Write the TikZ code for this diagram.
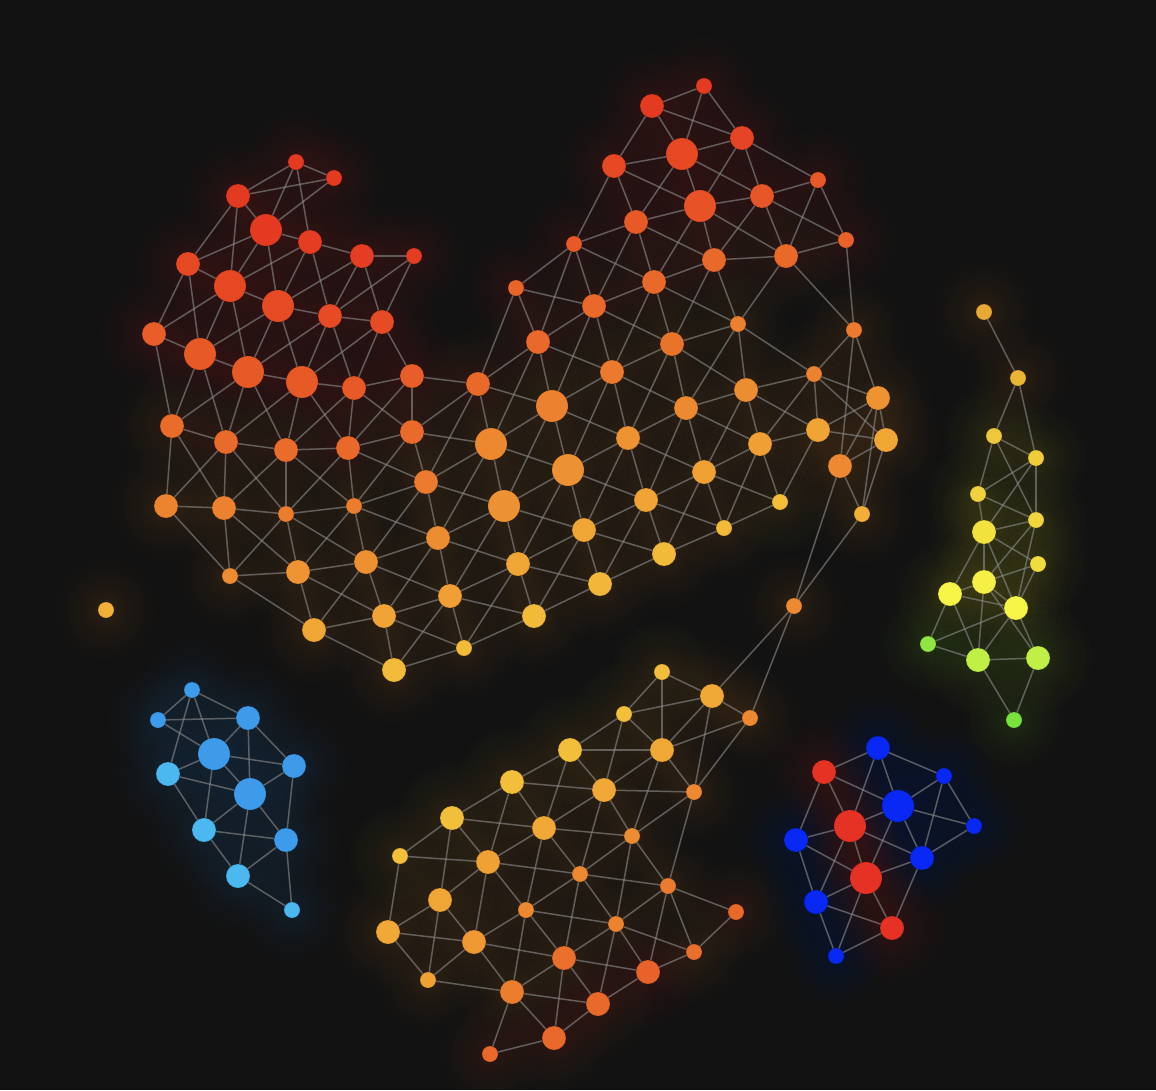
\documentclass[tikz,border=0pt]{standalone}
\usepackage{xcolor}
\definecolor{bg}{HTML}{121212}
\definecolor{cR}{HTML}{E43A22}
\definecolor{cY}{HTML}{F3C53B}
\definecolor{Lb}{HTML}{3D9BE9}
\definecolor{Lc}{HTML}{4BB8F0}
\definecolor{Rb}{HTML}{0A28F5}
\definecolor{Rr}{HTML}{E63224}
\definecolor{edgec}{HTML}{8A8A8A}
\definecolor{y1}{HTML}{E8A834}
\definecolor{y2}{HTML}{EAB434}
\definecolor{y3}{HTML}{ECC83A}
\definecolor{y4}{HTML}{EECC3A}
\definecolor{y5}{HTML}{F0D23C}
\definecolor{y6}{HTML}{F0D63C}
\definecolor{y7}{HTML}{F2E23E}
\definecolor{y8}{HTML}{F0DC3E}
\definecolor{y9}{HTML}{F6F046}
\definecolor{y10}{HTML}{F6F446}
\definecolor{y11}{HTML}{F6F446}
\definecolor{y12}{HTML}{92E442}
\definecolor{y13}{HTML}{C0F046}
\definecolor{y14}{HTML}{C0F046}
\definecolor{y15}{HTML}{78E23C}
\pgfdeclarelayer{bglayer}
\pgfdeclarelayer{glow}
\pgfdeclarelayer{edges}
\pgfsetlayers{bglayer,glow,edges,main}
\tikzset{
  dot/.style={circle, inner sep=0pt, outer sep=0pt, draw=black, draw opacity=0.15, line width=0.8pt},
  edge/.style={draw=edgec, draw opacity=0.62, line width=1.5pt},
  halo/.style={fill=#1, opacity=0.011}
}
\newcommand\gnode[5]{%
  \begin{pgfonlayer}{glow}
    \foreach \gg in {3,6,9,12,16,20,25,30,36,42}
      {\fill[halo=#5] (#2,#3) circle[radius=#4pt+\gg pt];}
  \end{pgfonlayer}
  \node[dot, fill=#5, minimum size=2*#4pt] (#1) at (#2,#3) {};
}
\begin{document}
\begin{tikzpicture}[x=1pt,y=-1pt]
\begin{pgfonlayer}{bglayer}
\fill[bg] (0,0) rectangle (1156,1090);
\end{pgfonlayer}
\useasboundingbox (0,0) rectangle (1156,1090);
% gradient nodes: name/x/y/r/percent yellow
\foreach \nn/\xx/\yy/\rr/\pp in {
A1/296/162/8/0, A2/334/178/8/0, A3/238/196/12/0, A4/266/230/16/0, A5/310/242/12/2,
A6/362/256/12/2, A7/414/256/8/2, A8/188/264/12/10, A9/230/286/16/10, A10/278/306/16/12,
A11/330/316/12/12, A12/382/322/12/12, A13/154/334/12/25, A14/200/354/16/22, A15/248/372/16/22,
A16/302/382/16/22, A17/354/388/12/22, A18/412/376/12/26,
M1/478/384/12/34, M2/491/444/16/56,
B1/172/426/12/36, B2/226/442/12/35, B3/286/450/12/36, B4/348/448/12/34, B5/412/432/12/35,
B6/426/482/12/47, B7/166/506/12/53, B8/224/508/12/52, B9/286/514/8/48, B10/354/506/8/48,
B11/438/538/12/60, B13/230/576/8/60, B14/298/572/12/65, B15/366/562/12/62, B16/450/596/12/73,
B17/314/630/12/78, B18/384/616/12/76, B19/464/648/8/92, B20/394/670/12/93,
T5/704/86/8/0, T6/652/106/12/0, T7/742/138/12/8, T8/682/154/16/10, T9/614/166/12/10,
T10/818/180/8/22, T11/700/206/16/18, T12/762/196/12/20, T13/636/222/12/22, T14/574/244/8/22,
T15/846/240/8/29, T4/714/260/12/34, T16/786/256/12/34, T1/516/288/8/30, T3/654/282/12/34,
T2/594/306/12/34,
C27/738/324/8/50, C28/854/330/8/46, C1/538/342/12/34, C2/672/344/12/41, C3/612/372/12/46,
C4/552/406/16/52, C5/686/408/12/57, C6/746/390/12/60, C7/814/374/8/51, C8/878/398/12/64,
C9/628/438/12/64, C10/760/444/12/73, C11/818/430/12/76, C12/886/440/12/77, C13/568/470/16/63,
C14/704/472/12/74, C15/840/466/12/57, C16/504/506/16/63, C17/646/500/12/76, C18/780/502/8/95,
C19/862/514/8/84, C20/584/530/12/78, C21/724/528/8/92, C22/518/564/12/78, C23/664/554/12/92,
C24/600/584/12/90, C25/534/616/12/92, C26/794/606/8/57,
Z/106/610/8/85,
D1/662/672/8/96, D2/712/696/12/80, D3/624/714/8/96, D4/750/718/8/57, D5/570/750/12/96,
D6/662/750/12/80, D7/512/782/12/96, D8/604/790/12/80, D9/694/792/8/57, D10/452/818/12/96,
D11/544/828/12/80, D12/632/836/8/60, D13/400/856/8/96, D14/488/862/12/74, D15/580/874/8/57,
D16/668/886/8/47, D17/440/900/12/78, D18/526/910/8/57, D19/736/912/8/34, D20/616/924/8/51,
D21/388/932/12/80, D22/474/942/12/68, D23/694/952/8/38, D24/564/958/12/38, D25/648/972/12/29,
D26/428/980/8/74, D27/512/992/12/48, D28/598/1004/12/34, D29/554/1038/12/34, D30/490/1054/8/34}
  {\gnode{\nn}{\xx}{\yy}{\rr}{cY!\pp!cR}}
% nodes with named colours
\foreach \nn/\xx/\yy/\rr/\cc in {
Y1/984/312/8/y1, Y2/1018/378/8/y2, Y3/994/436/8/y3, Y4/1036/458/8/y4, Y5/978/494/8/y5,
Y6/1036/520/8/y6, Y7/984/532/12/y7, Y8/1038/564/8/y8, Y9/984/582/12/y9, Y10/950/594/12/y10,
Y11/1016/608/12/y11, Y12/928/644/8/y12, Y13/978/660/12/y13, Y14/1038/658/12/y14, Y15/1014/720/8/y15,
L1/192/690/8/Lb, L2/158/720/8/Lb, L3/248/718/12/Lb, L4/214/754/16/Lb, L5/294/766/12/Lb,
L6/168/774/12/Lc, L7/250/794/16/Lb, L8/204/830/12/Lc, L9/286/840/12/Lb, L10/238/876/12/Lc,
L11/292/910/8/Lc,
R1/878/748/12/Rb, R2/824/772/12/Rr, R3/944/776/8/Rb, R4/898/806/16/Rb, R5/850/826/16/Rr,
R6/974/826/8/Rb, R7/796/840/12/Rb, R8/922/858/12/Rb, R9/866/878/16/Rr, R10/816/902/12/Rb,
R11/892/928/12/Rr, R12/836/956/8/Rb}
  {\gnode{\nn}{\xx}{\yy}{\rr}{\cc}}
\begin{pgfonlayer}{edges}
\foreach \a/\b in {
A1/A2, A1/A3, A1/A4, A1/A5, A2/A3, A2/A4, A3/A4, A3/A8, A3/A9, A4/A5, A4/A8, A4/A9, A4/A10,
A5/A6, A5/A9, A5/A10, A5/A11, A6/A7, A6/A10, A6/A11, A6/A12, A7/A11, A7/A12, A8/A9, A8/A13,
A8/A14, A9/A10, A9/A13, A9/A14, A9/A15, A10/A11, A10/A14, A10/A15, A10/A16, A11/A12, A11/A15,
A11/A16, A11/A17, A12/A16, A12/A17, A12/A18, A13/A14, A14/A15, A15/A16, A16/A17, A17/A18, A18/M1,
A13/B1, A14/B1, A14/B2, A15/B1, A15/B2, A15/B3, A16/B2, A16/B3, A16/B4, A17/B3, A17/B4, A17/B5,
A18/B4, A18/B5,
B1/B2, B1/B7, B1/B8, B2/B3, B2/B7, B2/B8, B2/B9, B3/B4, B3/B8, B3/B9, B3/B10, B4/B5, B4/B9,
B4/B10, B4/B6, B5/B10, B5/B6, B6/B10, B6/B11, B6/B15, B7/B8, B7/B13, B8/B9, B8/B13, B8/B14,
B9/B10, B9/B13, B9/B14, B9/B15, B10/B14, B10/B15, B10/B11, B11/B15, B11/B16, B11/B18, B13/B14,
B13/B17, B14/B15, B14/B17, B14/B18, B15/B16, B15/B17, B15/B18, B16/B18, B16/B19, B16/B20,
B17/B18, B17/B20, B18/B19, B18/B20, B19/B20,
M1/T1, M1/C1, M1/C4, M1/M2, M1/B5, M1/B6,
M2/C1, M2/C4, M2/C13, M2/C16, M2/B5, M2/B6, M2/B11,
T5/T6, T5/T7, T5/T8, T6/T7, T6/T8, T6/T9, T7/T8, T7/T10, T7/T12, T7/T11, T8/T9, T8/T11,
T8/T12, T8/T13, T9/T11, T9/T13, T9/T14, T10/T12, T10/T15, T10/T16, T11/T12, T11/T13, T11/T4,
T11/T16, T11/T3, T12/T4, T12/T16, T12/T15, T13/T14, T13/T2, T13/T3, T13/T4, T14/T1, T14/T2,
T14/T3, T14/C1, T15/T16, T15/C28, T16/T4, T16/C27, T16/C28, T4/T3, T4/C27, T4/C2, T1/T2,
T1/C1, T2/T3, T2/C1, T2/C3, T2/C4, T2/C2, T3/C27, T3/C2, T3/C3,
C1/C3, C1/C4, C2/C3, C2/C5, C2/C6, C2/C9, C2/C27, C3/C4, C3/C5, C3/C9, C3/C13, C4/C9, C4/C13,
C4/C16, C5/C6, C5/C9, C5/C10, C5/C14, C5/C17, C5/C27, C6/C27, C6/C7, C6/C10, C6/C11, C6/C14,
C7/C27, C7/C28, C7/C8, C7/C10, C7/C11, C7/C12, C8/C28, C8/C11, C8/C12, C8/C15, C8/C19,
C10/C11, C10/C14, C10/C18, C10/C21, C11/C12, C11/C18, C12/C15, C12/C19, C15/C28, C15/C19,
C15/C26, C19/C26, C9/C13, C9/C14, C9/C17, C9/C20, C13/C16, C13/C17, C13/C20, C13/C22,
C14/C17, C14/C18, C14/C21, C14/C23, C16/C20, C16/C22, C16/B6, C16/B11, C16/B16, C17/C20,
C17/C21, C17/C23, C17/C24, C18/C21, C20/C22, C20/C23, C20/C24, C20/C25, C21/C23, C22/C24,
C22/C25, C22/B11, C22/B16, C22/B19, C23/C24, C24/C25, C25/B16, C25/B19, C26/D2, C26/D4,
D1/D2, D1/D3, D1/D6, D2/D3, D2/D4, D2/D6, D2/D9, D4/D6, D4/D9, D3/D5, D3/D6, D3/D8, D5/D6,
D5/D7, D5/D8, D5/D11, D6/D8, D6/D9, D6/D12, D7/D8, D7/D10, D7/D11, D7/D14, D8/D9, D8/D11,
D8/D12, D8/D15, D9/D12, D9/D16, D10/D11, D10/D13, D10/D14, D10/D17, D11/D12, D11/D14,
D11/D15, D11/D18, D12/D15, D12/D16, D12/D20, D13/D14, D13/D21, D14/D15, D14/D17, D14/D18,
D14/D22, D15/D16, D15/D18, D15/D20, D15/D24, D16/D19, D16/D20, D16/D23, D16/D25, D17/D21,
D17/D22, D17/D26, D18/D20, D18/D22, D18/D24, D18/D27, D19/D23, D20/D23, D20/D24, D20/D25,
D20/D28, D21/D22, D21/D26, D22/D24, D22/D26, D22/D27, D23/D25, D24/D25, D24/D27, D24/D28,
D24/D29, D25/D28, D26/D27, D27/D28, D27/D29, D27/D30, D28/D29, D29/D30,
Y1/Y2, Y2/Y3, Y2/Y4, Y3/Y4, Y3/Y5, Y3/Y6, Y4/Y5, Y4/Y6, Y4/Y7, Y5/Y6, Y5/Y7, Y6/Y7, Y6/Y9,
Y6/Y11, Y7/Y8, Y7/Y9, Y7/Y10, Y7/Y11, Y8/Y9, Y8/Y11, Y9/Y10, Y9/Y11, Y9/Y13, Y9/Y14, Y10/Y11,
Y10/Y12, Y10/Y13, Y11/Y12, Y11/Y13, Y11/Y14, Y12/Y13, Y13/Y14, Y13/Y15, Y14/Y15,
L1/L2, L1/L3, L1/L4, L1/L6, L2/L3, L2/L4, L3/L4, L3/L5, L3/L7, L4/L5, L4/L6, L4/L7, L4/L8,
L5/L7, L5/L9, L6/L7, L6/L8, L7/L8, L7/L9, L7/L10, L8/L9, L8/L10, L9/L10, L9/L11, L10/L11,
R1/R2, R1/R3, R1/R4, R1/R5, R2/R4, R2/R5, R2/R7, R3/R4, R3/R6, R3/R8, R4/R5, R4/R6, R4/R8,
R4/R9, R5/R7, R5/R8, R5/R9, R5/R10, R6/R8, R7/R9, R7/R10, R8/R9, R8/R11, R9/R10, R9/R11,
R9/R12, R10/R11, R10/R12, R11/R12}
  {\draw[edge] (\a) -- (\b);}
\end{pgfonlayer}
\end{tikzpicture}
\end{document}
